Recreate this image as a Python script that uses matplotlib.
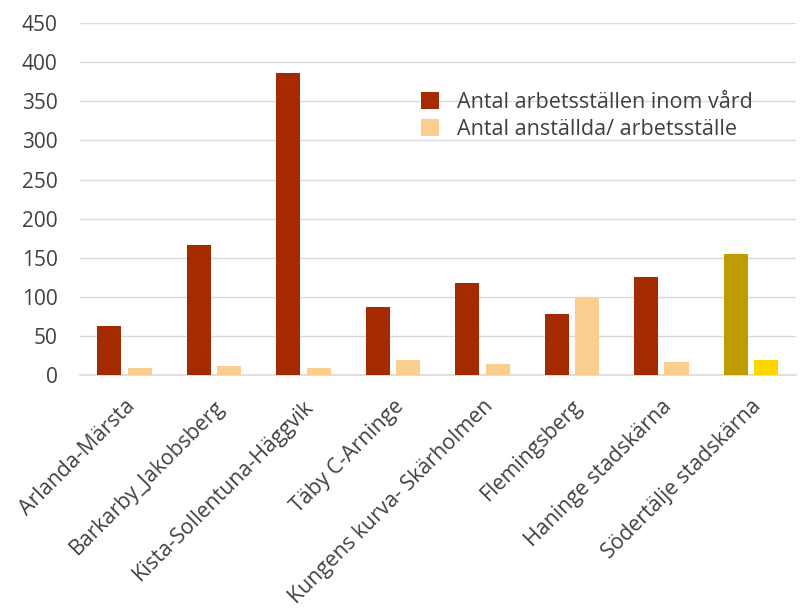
import matplotlib
matplotlib.use("Agg")
import matplotlib.pyplot as plt
import numpy as np

# Data
categories = ["Arlanda-Märsta", "Barkarby_Jakobsberg", "Kista-Sollentuna-Häggvik",
              "Täby C-Arninge", "Kungens kurva- Skärholmen", "Flemingsberg",
              "Haninge stadskärna", "Södertälje stadskärna"]
arbetsstallen = [63, 167, 386, 87, 118, 78, 126, 155]
anstallda = [9, 12, 9, 19, 14, 98, 17, 19]

red_colors = ["#A52A00"] * 7 + ["#C09C00"]
light_colors = ["#FBCD8E"] * 7 + ["#FFD500"]

plt.rcParams['font.family'] = ['Open Sans', 'DejaVu Sans']

fig = plt.figure(figsize=(8.06, 6.09), dpi=100)
ax = fig.add_axes([0.099, 0.384, 0.888, 0.578])

x = np.arange(len(categories))
w = 0.27
gap = 0.035
ax.bar(x - w / 2 - gap, arbetsstallen, w, color=red_colors,
       label="Antal arbetsställen inom vård", zorder=3)
ax.bar(x + w / 2 + gap, anstallda, w, color=light_colors,
       label="Antal anställda/ arbetsställe", zorder=3)

ax.set_ylim(0, 450)
ax.set_xlim(-0.5, len(categories) - 0.5)
ax.set_yticks(range(0, 451, 50))
ax.yaxis.grid(True, color="#D9D9D9", linewidth=1.0, zorder=0)
ax.set_axisbelow(True)
for s in ["top", "right", "left"]:
    ax.spines[s].set_visible(False)
ax.spines["bottom"].set_color("#D9D9D9")
ax.spines["bottom"].set_linewidth(1.2)
ax.tick_params(axis="both", length=0, colors="#404040")
ax.tick_params(axis="y", pad=16, labelsize=15)

ax.set_xticks(x)
ax.set_xticklabels(categories, rotation=45, ha="right", rotation_mode="anchor",
                   fontsize=15.3, color="#404040")
ax.tick_params(axis="x", pad=15)

ax.legend(loc="upper left", bbox_to_anchor=(410 / 806, 1 - 81 / 609),
          bbox_transform=fig.transFigure, frameon=False, borderpad=0,
          fontsize=15.5, labelcolor="#404040", handlelength=0.85, handleheight=0.85,
          handletextpad=0.85, labelspacing=0.3)

fig.savefig("out.png", dpi=100)
